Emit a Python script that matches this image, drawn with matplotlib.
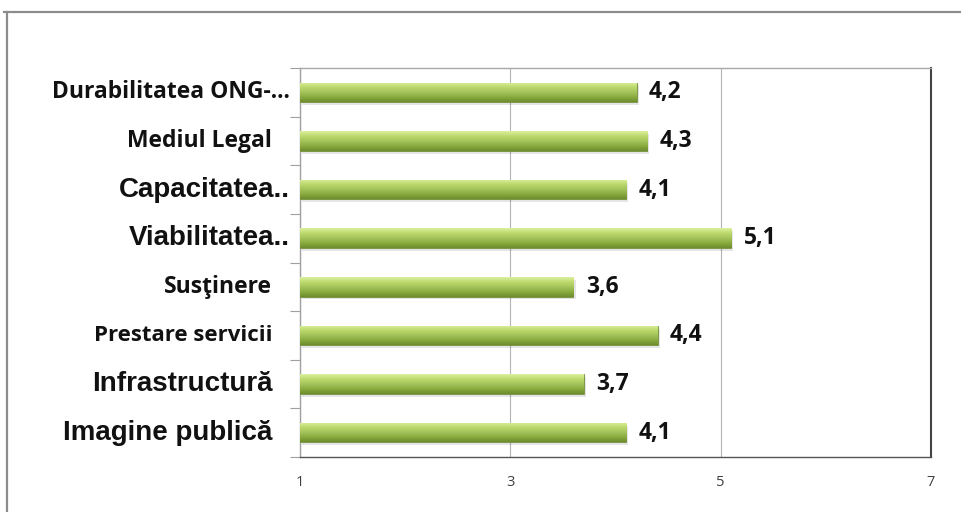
import numpy as np
import matplotlib
matplotlib.use('Agg')
import matplotlib.pyplot as plt
from matplotlib.colors import LinearSegmentedColormap
from matplotlib.lines import Line2D
from matplotlib import transforms

# date (de sus in jos)
categorii = ['Durabilitatea ONG-...', 'Mediul Legal', 'Capacitatea..', 'Viabilitatea..',
             'Susţinere', 'Prestare servicii', 'Infrastructură', 'Imagine publică']
valori = [4.2, 4.3, 4.1, 5.1, 3.6, 4.4, 3.7, 4.1]
etichete_valori = ['4,2', '4,3', '4,1', '5,1', '3,6', '4,4', '3,7', '4,1']
xticks = [1, 3, 5, 7]

# stil etichete (font, marime, distanta fata de axa in pt)
fonturi = ['Open Sans', 'Open Sans', 'Liberation Sans', 'Liberation Sans',
           'Open Sans', 'Open Sans', 'Liberation Sans', 'Liberation Sans']
marimi = [16.5, 16.5, 20, 20, 16.5, 16, 20, 20]
pad = [7, 20, 7, 7, 20, 20, 20, 20]

fig = plt.figure(figsize=(9.61, 5.12), dpi=100)
ax = fig.add_axes([0.3122, 0.1074, 0.6566, 0.7598])

y = np.arange(len(categorii))
bars = ax.barh(y, np.array(valori) - 1, left=1, height=0.4, color='#9bbb59',
               edgecolor='#728f38', linewidth=0.6, zorder=3)

# gradient pe bare
cmap = LinearSegmentedColormap.from_list('verde', ['#dcf09e', '#bcd96c', '#a4c45c', '#8aab3f', '#6e8c2e'])
grad = np.linspace(0, 1, 64).reshape(-1, 1)
for b in bars:
    x0, y0 = b.get_x(), b.get_y()
    w, h = b.get_width(), b.get_height()
    # umbra
    ax.barh(y0 + h / 2 + 0.06, w, left=x0 + 0.02, height=h, color='#000000', alpha=0.10,
            linewidth=0, zorder=2)
    im = ax.imshow(grad, extent=[x0, x0 + w, y0, y0 + h], cmap=cmap, aspect='auto',
                   origin='lower', zorder=3.5)
    im.set_clip_path(b)

ax.set_xlim(1, 7)
ax.set_ylim(len(categorii) - 0.5, -0.5)

# etichete valori
for yi, v, t in zip(y, valori, etichete_valori):
    ax.annotate(t, (v, yi), xytext=(9, 0), textcoords='offset points', va='center', ha='left',
                fontsize=16.5, fontweight='bold', family='Open Sans', color='#111111')

# etichete categorii
trans = transforms.blended_transform_factory(ax.transAxes, ax.transData)
for yi, c, f, m, p in zip(y, categorii, fonturi, marimi, pad):
    off = transforms.offset_copy(trans, fig=fig, x=-p, y=0, units='points')
    ax.text(0, yi, c, transform=off, ha='right', va='center', fontsize=m,
            fontweight='bold', family=f, color='#111111')

ax.set_yticks([])
ax.set_yticks(np.arange(-0.5, len(categorii)), minor=True)
ax.tick_params(axis='y', which='minor', length=7, color='#a0a0a0', width=0.8)

ax.set_xticks(xticks)
ax.set_xticklabels([str(t) for t in xticks], family='Open Sans', fontsize=10.5, color='#404040')
ax.tick_params(axis='x', length=0, pad=13)
ax.grid(axis='x', color='#b4b4b4', linewidth=0.8, zorder=0)
ax.set_axisbelow(True)

ax.spines['top'].set_color('#a8a8a8')
ax.spines['left'].set_color('#a0a0a0')
ax.spines['bottom'].set_color('#555555')
ax.spines['right'].set_color('#444444')
ax.spines['right'].set_linewidth(1.5)
for s in ['top', 'left', 'bottom']:
    ax.spines[s].set_linewidth(1.0)

# chenarul exterior
fig.add_artist(Line2D([4 / 961, 1], [1 - 12 / 512, 1 - 12 / 512], color='#8c8c8c', lw=1.6))
fig.add_artist(Line2D([7 / 961, 7 / 961], [1 - 12 / 512, 0], color='#8c8c8c', lw=1.6))

fig.savefig('out.png', dpi=100)
